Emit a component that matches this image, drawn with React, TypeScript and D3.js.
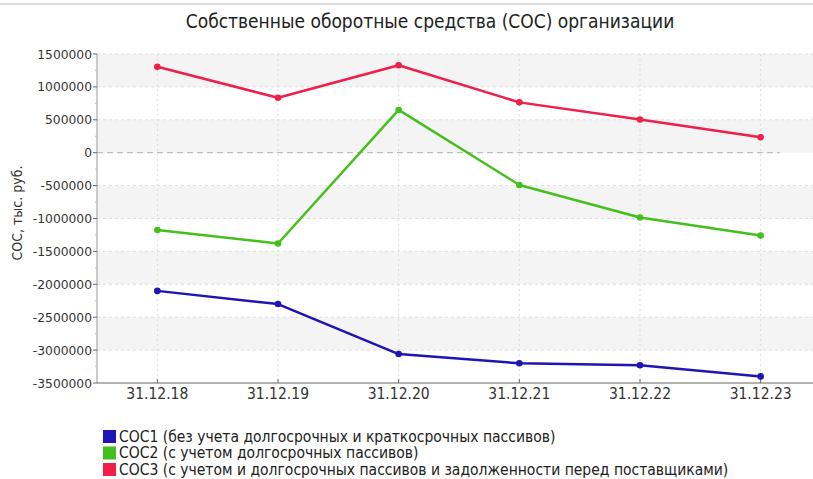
import React from "react";
import * as d3 from "d3";

const categories = ["31.12.18", "31.12.19", "31.12.20", "31.12.21", "31.12.22", "31.12.23"];
const sos1 = [-2100000, -2300000, -3060000, -3200000, -3230000, -3400000];
const sos2 = [-1175000, -1380000, 650000, -490000, -985000, -1260000];
const sos3 = [1305000, 835000, 1330000, 765000, 505000, 235000];
const yTicks = [1500000, 1000000, 500000, 0, -500000, -1000000, -1500000, -2000000, -2500000, -3000000, -3500000];
const seriesNames = [
  "СОС1 (без учета долгосрочных и краткосрочных пассивов)",
  "СОС2 (с учетом долгосрочных пассивов)",
  "СОС3 (с учетом и долгосрочных пассивов и задолженности перед поставщиками)",
];
const seriesColors = ["#1f14b4", "#44c01c", "#f01e48"];
const title = "Собственные оборотные средства (СОС) организации";
const yLabel = "СОС, тыс. руб.";

const W = 813;
const H = 479;
const left = 97;
const right = 821;
const top = 54;
const bottom = 383;
const FONT = "'DejaVu Sans', sans-serif";
const FONTC = "'DejaVu Sans Condensed', 'DejaVu Sans', sans-serif";

export default function App() {
  const x = d3.scalePoint<string>().domain(categories).range([left, right]).padding(0.5);
  const y = d3.scaleLinear().domain([-3500000, 1500000]).range([bottom, top]);
  const line = d3
    .line<number>()
    .x((_, i) => x(categories[i]) as number)
    .y((d) => y(d));
  const series = [sos1, sos2, sos3];
  const minorTicks = d3.range(-3500000, 1500001, 250000).filter((v) => v % 500000 !== 0);
  const bands = yTicks.filter((_, i) => i % 2 === 0 && i < yTicks.length - 1);

  return (
    <svg width={W} height={H} style={{ position: "absolute", left: 0, top: 0, background: "#fff" }}>
      <rect x={0} y={0} width={W} height={H} fill="#fff" />
      <rect x={0} y={3} width={W} height={2} fill="#dcdcdc" />
      <text x={430} y={28} textAnchor="middle" fontFamily={FONTC} fontSize={19} fill="#222">
        {title}
      </text>
      {/* bands */}
      {bands.map((v) => (
        <rect key={v} x={left} y={y(v)} width={right - left} height={y(v - 500000) - y(v)} fill="#f4f4f4" />
      ))}
      {/* horizontal grid */}
      {yTicks.map((v) =>
        v === -3500000 ? null : (
          <line
            key={v}
            x1={left}
            x2={v === 0 ? 780 : right}
            y1={y(v)}
            y2={y(v)}
            stroke={v === 0 ? "#b0b0b0" : "#dedede"}
            strokeDasharray={v === 0 ? "6,4" : "3,3"}
            strokeWidth={1}
          />
        )
      )}
      {/* vertical grid */}
      {categories.map((c) => (
        <line key={c} x1={x(c)} x2={x(c)} y1={top} y2={bottom} stroke="#dcdcdc" strokeDasharray="2,3" />
      ))}
      {/* y axis */}
      <line x1={left} x2={left} y1={top} y2={bottom} stroke="#999" />
      {yTicks.map((v) => (
        <g key={v}>
          <line x1={left - 4} x2={left} y1={y(v)} y2={y(v)} stroke="#666" />
          <text x={left - 5} y={y(v) + 4.5} textAnchor="end" fontFamily={FONT} fontSize={12.3} fill="#333">
            {v}
          </text>
        </g>
      ))}
      {minorTicks.map((v) => (
        <line key={v} x1={left - 2} x2={left} y1={y(v)} y2={y(v)} stroke="#bbb" />
      ))}
      <text
        transform={`translate(22,213) rotate(-90)`}
        textAnchor="middle"
        fontFamily={FONTC}
        fontSize={14}
        fill="#333"
      >
        {yLabel}
      </text>
      {/* x axis */}
      <line x1={left} x2={W} y1={bottom} y2={bottom} stroke="#999" strokeWidth={1.5} />
      {categories.map((c) => (
        <g key={c}>
          <line x1={x(c)} x2={x(c)} y1={bottom - 4} y2={bottom} stroke="#666" />
          <text x={x(c)} y={bottom + 16} textAnchor="middle" fontFamily={FONTC} fontSize={15.5} fill="#333">
            {c}
          </text>
        </g>
      ))}
      {/* series */}
      {series.map((s, k) => (
        <g key={k}>
          <path d={line(s) || ""} fill="none" stroke={seriesColors[k]} strokeWidth={2.5} strokeLinejoin="round" />
          {s.map((v, i) => (
            <circle key={i} cx={x(categories[i])} cy={y(v)} r={3.3} fill={seriesColors[k]} />
          ))}
        </g>
      ))}
      {/* legend */}
      {seriesNames.map((n, k) => (
        <g key={n}>
          <rect x={103} y={430 + k * 16.5} width={13} height={13} fill={seriesColors[k]} />
          <text x={119} y={441.5 + k * 16.5} fontFamily={FONTC} fontSize={15.5} fill="#222">
            {n}
          </text>
        </g>
      ))}
    </svg>
  );
}
